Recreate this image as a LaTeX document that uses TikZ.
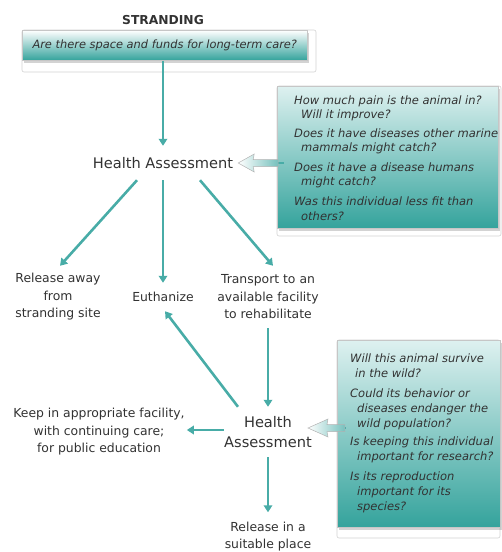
\documentclass[tikz,border=0pt]{standalone}
\usepackage{fontspec}
\setmainfont{DejaVu Sans}
\usetikzlibrary{arrows.meta,shadows,calc}
\definecolor{tealA}{RGB}{72,172,167}
\definecolor{tealB}{RGB}{52,163,156}
\definecolor{tealL}{RGB}{222,241,240}
\definecolor{txt}{RGB}{50,50,50}
\begin{document}
\begin{tikzpicture}[x=1pt,y=-1pt,
  arr/.style={draw=tealA, line width=2.6pt, -{Triangle[length=7pt,width=8.5pt]}},
  lbl/.style={text=txt, font=\fontsize{12.4}{17.5}\selectfont, align=center, inner sep=0pt},
  halbl/.style={text=txt, font=\fontsize{14.6}{20}\selectfont, align=center, inner sep=0pt},
  qbox/.style={draw=gray!45, line width=0.5pt, top color=tealL, bottom color=tealB, inner sep=0pt,
    drop shadow={opacity=0.35, shadow xshift=1.5pt, shadow yshift=-2.5pt}},
  qtext/.style={text=txt, font=\fontsize{11.5}{15}\selectfont\itshape, align=left, inner sep=0pt},
  frame/.style={draw=gray!35, line width=0.6pt, rounded corners=2pt},
  hollow/.style={draw=gray!60, line width=0.5pt, left color=white, right color=tealA!75},
  tail/.style={draw=tealA, line width=2.4pt}]
\useasboundingbox (0,0) rectangle (502,552);

% faint frames
\draw[frame] (22,30) rectangle (316,72);
\draw[frame] (277,86) rectangle (501,236);
\draw[frame] (337,340) rectangle (500,538);

% title and top question box
\node[text=txt, font=\fontsize{12.3}{14}\selectfont\bfseries, inner sep=0pt] (st) at (163,20) {STRANDING};
\node[qbox, top color=white, middle color=tealL, bottom color=tealB, minimum width=285pt, minimum height=30pt, anchor=north west,
  text=txt, font=\fontsize{11.4}{13}\selectfont\itshape] (top) at (22,30) {Are there space and funds for long-term care?};

% question boxes
\node[qbox, minimum width=221pt, minimum height=142pt, anchor=north west] (q1) at (277,86) {};
\node[qtext, font=\fontsize{11.5}{14.5}\selectfont\itshape, anchor=north west] (q1t) at (294,95.5) {How much pain is the animal in?\\\hspace*{7pt}Will it improve?\\[4pt]Does it have diseases other marine\\\hspace*{7pt}mammals might catch?\\[5pt]Does it have a disease humans\\\hspace*{7pt}might catch?\\[5.5pt]Was this individual less fit than\\\hspace*{7pt}others?};

\node[qbox, minimum width=163pt, minimum height=187pt, anchor=north west] (q2) at (337,340) {};
\node[qtext, anchor=north west] (q2t) at (350,353.5) {Will this animal survive\\\hspace*{5pt}in the wild?\\[5pt]Could its behavior or\\\hspace*{7pt}diseases endanger the\\\hspace*{7pt}wild population?\\[3pt]Is keeping this individual\\\hspace*{7pt}important for research?\\[5pt]Is its reproduction\\\hspace*{7pt}important for its\\\hspace*{7pt}species?};

% labels
\node[halbl, minimum width=150pt, minimum height=34pt] (ha1) at (163,163) {Health Assessment};
\node[lbl, minimum height=62pt] (rel1) at (58,297) {Release away\\from\\stranding site};
\node[lbl, minimum height=28pt] (euth) at (163,297) {Euthanize};
\node[lbl, minimum height=62pt] (trans) at (268,297) {Transport to an\\available facility\\to rehabilitate};
\node[halbl, minimum width=72pt, minimum height=50pt] (ha2) at (268,432) {Health\\Assessment};
\node[lbl, minimum height=52pt] (keep) at (99,432) {Keep in appropriate facility,\\with continuing care;\\for public education};
\node[lbl, font=\fontsize{12.4}{17}\selectfont, minimum height=48pt] (rel2) at (268,536.5) {Release in a\\suitable place};

% connectors
\draw[arr] (top.south -| ha1.north) -- (ha1.north);
\draw[arr] ([xshift=-26pt]ha1.south) -- ([xshift=2pt]rel1.north);
\draw[arr] (ha1.south) -- (euth.north);
\draw[arr] ([xshift=37pt]ha1.south) -- ([xshift=5pt]trans.north);
\draw[arr] (trans.south) -- (ha2.north);
\draw[arr] ([xshift=-30pt]ha2.north) -- ([xshift=2pt]euth.south);
\draw[arr] ([yshift=2pt]ha2.west) -- ([xshift=2pt,yshift=2pt]keep.east);
\draw[arr] (ha2.south) -- (rel2.north);

% hollow arrows from question boxes
\draw[tail] (q1.west |- ha1.east) -- ++(7,0);
\path[hollow] (ha1.east) -- ++(16,-9) -- ++(-1,5.5) -- ++(25,0) -- ++(0,7) -- ++(-25,0) -- ++(1,5.5) -- cycle;
\draw[tail] ([yshift=4pt]q2.west |- ha2.east) -- ++(9,0);
\path[hollow] ([xshift=-4pt,yshift=4pt]ha2.east) -- ++(20,-9) -- ++(-1,5.5) -- ++(18,0) -- ++(0,7) -- ++(-18,0) -- ++(1,5.5) -- cycle;
\end{tikzpicture}
\end{document}
